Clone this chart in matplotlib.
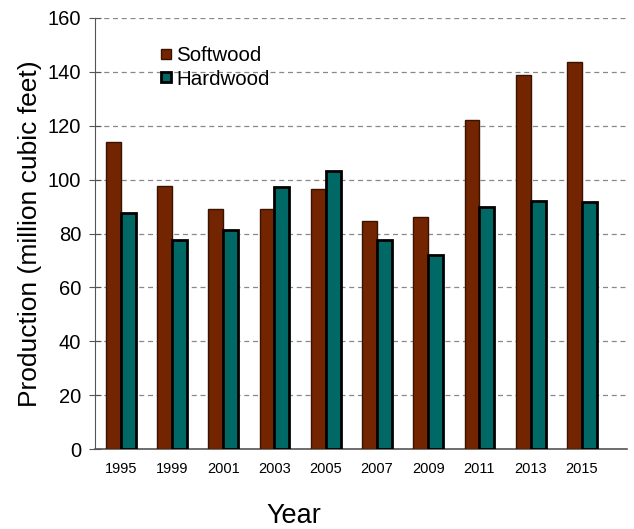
import numpy as np
import matplotlib.pyplot as plt
from matplotlib.patches import Rectangle

plt.rcParams['font.family'] = ['Liberation Sans', 'DejaVu Sans']

years = ["1995", "1999", "2001", "2003", "2005", "2007", "2009", "2011", "2013", "2015"]
softwood = [114, 97.6, 89, 89, 96.5, 84.7, 86.2, 122, 139, 143.7]
hardwood = [87.8, 77.6, 81.3, 97.3, 103.3, 77.6, 72, 89.8, 92, 91.6]

soft_color = "#722500"
hard_color = "#006966"

fig = plt.figure(figsize=(6.34, 5.29), dpi=100)
ax = fig.add_axes([0.150, 0.151, 0.839, 0.815])

x = np.arange(len(years))
w = 0.29
ax.bar(x - w / 2, softwood, w, color=soft_color, edgecolor="#3a1200", linewidth=1.0,
       label="Softwood", zorder=3)
ax.bar(x + w / 2, hardwood, w, color=hard_color, edgecolor="black", linewidth=2.0,
       label="Hardwood", zorder=3)

ax.set_ylim(0, 160)
ax.set_yticks(np.arange(0, 161, 20))
ax.set_xlim(-0.5, 9.88)
ax.set_xticks(x)
ax.set_xticklabels(years, fontsize=10.5)
ax.tick_params(axis="y", labelsize=14.5, length=8, direction="inout", color="#555555", pad=6)
ax.tick_params(axis="x", length=0, pad=9)

ax.yaxis.grid(True, linestyle=(0, (4, 3)), color="#888888", linewidth=0.9, zorder=0)
for s in ["top", "right"]:
    ax.spines[s].set_visible(False)
ax.spines["left"].set_color("#555555")
ax.spines["bottom"].set_color("#555555")
ax.spines["bottom"].set_linewidth(1.2)

ax.set_ylabel("Production (million cubic feet)", fontsize=19, labelpad=4)
fig.text(0.464, 1 - 516 / 529, "Year", fontsize=19.5, ha="center", va="center")

# white area behind the legend (hides the gridline there)
ax.add_patch(Rectangle((0.066, 0.833), 0.306, 0.127, transform=ax.transAxes,
                       facecolor="white", edgecolor="none", zorder=1))
leg = ax.legend(loc="upper left", bbox_to_anchor=(0.124, 0.934), fontsize=14.8, frameon=False,
                handlelength=0.5, handleheight=0.4, handletextpad=0.25, labelspacing=0.2,
                borderpad=0, borderaxespad=0)

fig.savefig("out.png", dpi=100)
